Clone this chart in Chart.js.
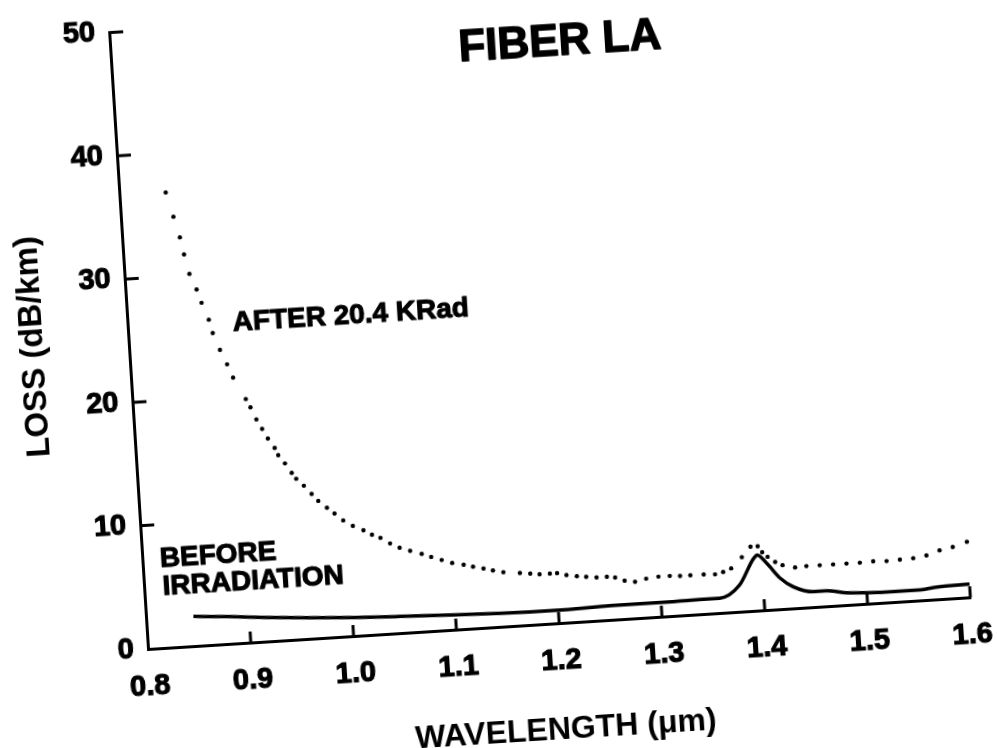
<!DOCTYPE html>
<html>
<head>
<meta charset="utf-8">
<title>Fiber LA</title>
<script src="https://cdn.jsdelivr.net/npm/chart.js@4.4.0/dist/chart.umd.min.js"></script>
<style>
    html, body { margin: 0; padding: 0; background: #fff; overflow: hidden; width: 997px; height: 748px; }
    /* the scanned figure sits a little tilted on the page */
    #wrap { position: absolute; left: 0; top: 0; width: 1040px; height: 800px;
            transform-origin: 148px 649px; transform: rotate(-3.6deg); }
</style>
</head>
<body>
<div id="wrap"><canvas id="lossChart" width="1040" height="800"></canvas></div>
<script>
// after 20.4 KRad (dotted)
const afterWavelength = [0.845, 0.851, 0.856, 0.859, 0.863, 0.869, 0.873, 0.879, 0.882, 0.888, 0.894, 0.899,
    0.910, 0.914, 0.919, 0.924, 0.929, 0.935, 0.938, 0.944, 0.950, 0.954, 0.961, 0.968, 0.974, 0.982, 0.989,
    0.997, 1.006, 1.016, 1.024, 1.032, 1.041, 1.050, 1.060, 1.071, 1.080, 1.090, 1.100, 1.111, 1.120, 1.130,
    1.139, 1.149, 1.165, 1.175, 1.184, 1.194, 1.201, 1.210, 1.220, 1.229, 1.239, 1.249, 1.257, 1.266, 1.276,
    1.287, 1.299, 1.310, 1.320, 1.330, 1.343, 1.354, 1.362, 1.370, 1.381, 1.390, 1.397, 1.401, 1.406, 1.413,
    1.420, 1.432, 1.443, 1.456, 1.469, 1.482, 1.495, 1.508, 1.521, 1.534, 1.547, 1.560, 1.573, 1.586, 1.600];
const afterLoss = [36.8, 34.8, 33.1, 31.7, 30.1, 28.8, 27.7, 26.3, 25.2, 23.8, 22.6, 21.5,
    19.7, 19.0, 18.0, 17.2, 16.4, 15.6, 15.0, 14.3, 13.5, 13.0, 12.4, 11.7, 11.1, 10.5, 10.0,
    9.4, 8.9, 8.5, 8.1, 7.8, 7.3, 6.9, 6.6, 6.3, 6.0, 5.7, 5.4, 5.2, 5.0, 4.8,
    4.6, 4.4, 4.25, 4.15, 4.05, 4.05, 4.05, 3.85, 3.7, 3.6, 3.5, 3.5, 3.4, 3.1, 2.95,
    3.15, 3.25, 3.25, 3.2, 3.2, 3.2, 3.15, 3.3, 3.55, 4.4, 5.2, 5.2, 4.7, 4.3, 3.85,
    3.55, 3.3, 3.35, 3.35, 3.35, 3.35, 3.35, 3.4, 3.35, 3.4, 3.45, 3.6, 3.95, 4.15, 4.5];

// before irradiation (solid)
const beforeWavelength = [0.846, 0.881, 0.917, 0.959, 1.001, 1.046, 1.101, 1.143, 1.198, 1.253, 1.299, 1.338,
    1.357, 1.377, 1.392, 1.396, 1.405, 1.417, 1.429, 1.448, 1.461, 1.480, 1.500, 1.525, 1.552, 1.568, 1.600];
const beforeLoss = [2.4, 2.2, 1.95, 1.7, 1.5, 1.35, 1.2, 1.1, 1.05, 1.15, 1.15, 1.2,
    1.2, 2.15, 4.2, 4.5, 3.75, 2.5, 1.75, 1.25, 1.25, 1.0, 0.9, 0.84, 0.84, 1.0, 1.07];

const xMin = 0.8, xMax = 1.6, xStep = 0.1;
const yMin = 0, yMax = 50, yStep = 10;

// text placed on the plot, anchored in data units
const plotTitle = { text: 'FIBER LA', x: 1.236, y: 46.9 };
const curveLabels = [
    { text: 'AFTER 20.4 KRad', x: 0.902, y: 25.9 },
    { text: 'BEFORE', x: 0.817, y: 7.2 },
    { text: 'IRRADIATION', x: 0.818, y: 4.9 }
];

const FONT = '"Liberation Sans", Arial, Helvetica, sans-serif';

const toPoints = (xs, ys) => xs.map((v, i) => ({ x: v, y: ys[i] }));

// ticks point into the plot, plus the free text
const paperMarks = {
    id: 'paperMarks',
    afterDraw(chart) {
        const { ctx, scales: { x, y } } = chart;
        const x0 = x.getPixelForValue(xMin);
        const y0 = y.getPixelForValue(yMin);
        ctx.save();
        ctx.strokeStyle = '#000';
        ctx.lineWidth = 3;
        x.ticks.forEach(t => {
            if (Math.abs(t.value - xMin) < 1e-6) return;
            const px = x.getPixelForValue(t.value);
            ctx.beginPath(); ctx.moveTo(px, y0); ctx.lineTo(px, y0 - 11); ctx.stroke();
        });
        y.ticks.forEach(t => {
            if (t.value === yMin) return;
            const py = y.getPixelForValue(t.value);
            ctx.beginPath(); ctx.moveTo(x0, py); ctx.lineTo(x0 + 14, py); ctx.stroke();
        });

        // heavy type like the original: fill plus a thin outline
        ctx.fillStyle = '#000';
        ctx.lineWidth = 1.4;
        ctx.lineJoin = 'round';
        ctx.textBaseline = 'middle';
        ctx.textAlign = 'center';
        ctx.font = 'bold 44px ' + FONT;
        const tx = x.getPixelForValue(plotTitle.x), ty = y.getPixelForValue(plotTitle.y);
        ctx.fillText(plotTitle.text, tx, ty);
        ctx.strokeText(plotTitle.text, tx, ty);
        ctx.textAlign = 'left';
        ctx.font = 'bold 28px ' + FONT;
        ctx.lineWidth = 1.1;
        curveLabels.forEach(l => {
            const lx = x.getPixelForValue(l.x), ly = y.getPixelForValue(l.y);
            ctx.fillText(l.text, lx, ly);
            ctx.strokeText(l.text, lx, ly);
        });
        ctx.restore();
    }
};

new Chart(document.getElementById('lossChart'), {
    type: 'scatter',
    data: {
        datasets: [
            {
                label: 'AFTER 20.4 KRad',
                data: toPoints(afterWavelength, afterLoss),
                showLine: false,
                pointRadius: 2.2,
                pointBackgroundColor: '#000',
                pointBorderWidth: 0,
                clip: false
            },
            {
                label: 'BEFORE IRRADIATION',
                data: toPoints(beforeWavelength, beforeLoss),
                showLine: true,
                borderColor: '#000',
                borderWidth: 3.5,
                pointRadius: 0,
                cubicInterpolationMode: 'monotone',
                clip: false
            }
        ]
    },
    options: {
        responsive: false,
        animation: false,
        events: [],
        layout: { padding: { left: 0, top: 29, right: 68, bottom: 0 } },
        plugins: { legend: { display: false }, tooltip: { enabled: false } },
        scales: {
            x: {
                type: 'linear',
                min: xMin, max: xMax,
                afterFit: s => { s.height = 151; },
                border: { display: true, color: '#000', width: 3 },
                grid: { drawOnChartArea: false, drawTicks: false },
                ticks: {
                    stepSize: xStep, autoSkip: false, maxRotation: 0, padding: 21,
                    color: '#000', font: { family: FONT, size: 29, weight: 'bold' },
                    textStrokeColor: '#000', textStrokeWidth: 1.1,
                    callback: v => v.toFixed(1)
                },
                title: {
                    display: true, text: 'WAVELENGTH (μm)', color: '#000',
                    font: { family: FONT, size: 32, weight: 'bold' },
                    padding: { top: 0, bottom: 25 }
                }
            },
            y: {
                min: yMin, max: yMax,
                afterFit: s => { s.width = 148; },
                border: { display: true, color: '#000', width: 3 },
                grid: { drawOnChartArea: false, drawTicks: false },
                ticks: {
                    stepSize: yStep, padding: 14,
                    color: '#000', font: { family: FONT, size: 29, weight: 'bold' },
                    textStrokeColor: '#000', textStrokeWidth: 1.1
                },
                title: {
                    display: true, text: 'LOSS (dB/km)', color: '#000',
                    font: { family: FONT, size: 33, weight: 'bold' },
                    padding: { top: 33, bottom: 0 }
                }
            }
        }
    },
    plugins: [paperMarks]
});
</script>
</body>
</html>
